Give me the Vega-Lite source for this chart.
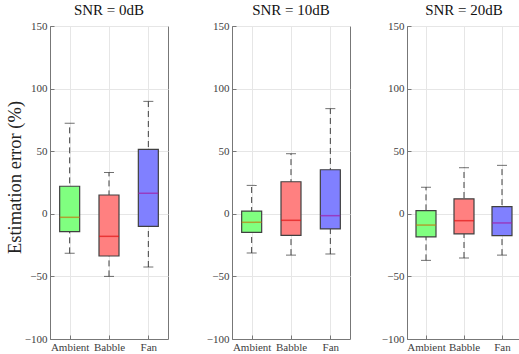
{
  "$schema": "https://vega.github.io/schema/vega-lite/v6.json",
  "padding": {"left": 4, "top": 2, "right": 0, "bottom": 0},
  "background": "white",
  "datasets": {
    "boxes": [
      {"snr": "0dB", "noise": "Ambient", "lo": -31.6, "q1": -14.3, "med": -2.8, "q3": 22, "hi": 72.3},
      {"snr": "0dB", "noise": "Babble", "lo": -50, "q1": -33.7, "med": -18, "q3": 15, "hi": 33},
      {"snr": "0dB", "noise": "Fan", "lo": -42.5, "q1": -10, "med": 16.4, "q3": 51.5, "hi": 89.8},
      {"snr": "10dB", "noise": "Ambient", "lo": -31.3, "q1": -14.8, "med": -6.8, "q3": 2.2, "hi": 22.7},
      {"snr": "10dB", "noise": "Babble", "lo": -33, "q1": -17.2, "med": -5.2, "q3": 25.6, "hi": 48},
      {"snr": "10dB", "noise": "Fan", "lo": -32.1, "q1": -12.1, "med": -1.5, "q3": 35.2, "hi": 84},
      {"snr": "20dB", "noise": "Ambient", "lo": -37.2, "q1": -18.5, "med": -9, "q3": 2.5, "hi": 21.2},
      {"snr": "20dB", "noise": "Babble", "lo": -35.3, "q1": -16.1, "med": -5.5, "q3": 12, "hi": 36.8},
      {"snr": "20dB", "noise": "Fan", "lo": -33, "q1": -17.5, "med": -7.3, "q3": 5.7, "hi": 38.7}
    ]
  },
  "config": {
    "view": {"stroke": "#777777", "strokeWidth": 1},
    "title": {"font": "Liberation Serif", "fontSize": 15, "fontWeight": "normal", "color": "#111111", "offset": 2},
    "axis": {
      "labelFont": "Liberation Serif",
      "labelFontSize": 11,
      "labelColor": "#404040",
      "titleFont": "Liberation Serif",
      "titleFontSize": 18.5,
      "titleFontWeight": "normal",
      "titleColor": "#222222",
      "domainColor": "#777777",
      "tickColor": "#777777",
      "gridColor": "#e6e6e6",
      "grid": true
    }
  },
  "spacing": 29,
  "hconcat": [
    {
      "spacing": 36,
      "hconcat": [
        {
          "width": 118, "height": 313,
          "title": "SNR = 0dB",
          "data": {"name": "boxes"},
          "transform": [{"filter": "datum.snr == '0dB'"}],
          "encoding": {
            "x": {"field": "noise", "type": "nominal", "sort": ["Ambient", "Babble", "Fan"], "scale": {"type": "point", "padding": 0.5},
              "axis": {"title": null, "labelAngle": 0, "labelPadding": 6, "tickSize": -4, "labelFont": "Liberation Serif"}}
          },
          "layer": [
            {"mark": {"type": "rule", "strokeDash": [6, 4], "color": "#404040", "strokeWidth": 1},
              "encoding": {"y": {"field": "lo", "type": "quantitative", "scale": {"domain": [-100, 150], "nice": false},
                "axis": {"title": "Estimation error (%)", "values": [-100, -50, 0, 50, 100, 150], "tickSize": -4, "labelPadding": 7, "minExtent": 24, "maxExtent": 24, "titlePadding": 2, "titleY": 151, "labelFont": "Liberation Serif"}},
                "y2": {"field": "hi"}}},
            {"mark": {"type": "tick", "size": 10, "thickness": 1, "color": "#333333"}, "encoding": {"y": {"field": "lo", "type": "quantitative"}}},
            {"mark": {"type": "tick", "size": 10, "thickness": 1, "color": "#333333"}, "encoding": {"y": {"field": "hi", "type": "quantitative"}}},
            {"mark": {"type": "bar", "width": 20, "stroke": "#404040", "strokeWidth": 1.2},
              "encoding": {"y": {"field": "q1", "type": "quantitative"}, "y2": {"field": "q3"},
                "fill": {"field": "noise", "type": "nominal", "scale": {"domain": ["Ambient", "Babble", "Fan"], "range": ["#80ff80", "#ff8080", "#8080ff"]}, "legend": null}}},
            {"mark": {"type": "tick", "size": 20, "thickness": 1.5},
              "encoding": {"y": {"field": "med", "type": "quantitative"},
                "color": {"field": "noise", "type": "nominal", "scale": {"domain": ["Ambient", "Babble", "Fan"], "range": ["#c07a10", "#e01515", "#a020a8"]}, "legend": null}}},
            {"mark": {"type": "rule", "strokeDash": [1, 2], "color": "#555555", "strokeWidth": 1}, "encoding": {"y": {"datum": 0, "type": "quantitative"}}}
          ]
        },
        {
          "width": 118, "height": 313,
          "title": "SNR = 10dB",
          "data": {"name": "boxes"},
          "transform": [{"filter": "datum.snr == '10dB'"}],
          "encoding": {
            "x": {"field": "noise", "type": "nominal", "sort": ["Ambient", "Babble", "Fan"], "scale": {"type": "point", "padding": 0.5},
              "axis": {"title": null, "labelAngle": 0, "labelPadding": 6, "tickSize": -4, "labelFont": "Liberation Serif"}}
          },
          "layer": [
            {"mark": {"type": "rule", "strokeDash": [6, 4], "color": "#404040", "strokeWidth": 1},
              "encoding": {"y": {"field": "lo", "type": "quantitative", "scale": {"domain": [-100, 150], "nice": false},
                "axis": {"title": null, "values": [-100, -50, 0, 50, 100, 150], "tickSize": -4, "labelPadding": 7, "minExtent": 24, "maxExtent": 24, "labelFont": "Liberation Serif"}},
                "y2": {"field": "hi"}}},
            {"mark": {"type": "tick", "size": 10, "thickness": 1, "color": "#333333"}, "encoding": {"y": {"field": "lo", "type": "quantitative"}}},
            {"mark": {"type": "tick", "size": 10, "thickness": 1, "color": "#333333"}, "encoding": {"y": {"field": "hi", "type": "quantitative"}}},
            {"mark": {"type": "bar", "width": 20, "stroke": "#404040", "strokeWidth": 1.2},
              "encoding": {"y": {"field": "q1", "type": "quantitative"}, "y2": {"field": "q3"},
                "fill": {"field": "noise", "type": "nominal", "scale": {"domain": ["Ambient", "Babble", "Fan"], "range": ["#80ff80", "#ff8080", "#8080ff"]}, "legend": null}}},
            {"mark": {"type": "tick", "size": 20, "thickness": 1.5},
              "encoding": {"y": {"field": "med", "type": "quantitative"},
                "color": {"field": "noise", "type": "nominal", "scale": {"domain": ["Ambient", "Babble", "Fan"], "range": ["#c07a10", "#e01515", "#a020a8"]}, "legend": null}}},
            {"mark": {"type": "rule", "strokeDash": [1, 2], "color": "#555555", "strokeWidth": 1}, "encoding": {"y": {"datum": 0, "type": "quantitative"}}}
          ]
        }
      ]
    },
    {
      "width": 114, "height": 313,
      "title": "SNR = 20dB",
      "data": {"name": "boxes"},
      "transform": [{"filter": "datum.snr == '20dB'"}],
      "encoding": {
        "x": {"field": "noise", "type": "nominal", "sort": ["Ambient", "Babble", "Fan"], "scale": {"type": "point", "padding": 0.5},
          "axis": {"title": null, "labelAngle": 0, "labelPadding": 6, "tickSize": -4, "labelFont": "Liberation Serif"}}
      },
      "layer": [
        {"mark": {"type": "rule", "strokeDash": [6, 4], "color": "#404040", "strokeWidth": 1},
          "encoding": {"y": {"field": "lo", "type": "quantitative", "scale": {"domain": [-100, 150], "nice": false},
            "axis": {"title": null, "values": [-100, -50, 0, 50, 100, 150], "tickSize": -4, "labelPadding": 7, "minExtent": 24, "maxExtent": 24, "labelFont": "Liberation Serif"}},
            "y2": {"field": "hi"}}},
        {"mark": {"type": "tick", "size": 10, "thickness": 1, "color": "#333333"}, "encoding": {"y": {"field": "lo", "type": "quantitative"}}},
        {"mark": {"type": "tick", "size": 10, "thickness": 1, "color": "#333333"}, "encoding": {"y": {"field": "hi", "type": "quantitative"}}},
        {"mark": {"type": "bar", "width": 20, "stroke": "#404040", "strokeWidth": 1.2},
          "encoding": {"y": {"field": "q1", "type": "quantitative"}, "y2": {"field": "q3"},
            "fill": {"field": "noise", "type": "nominal", "scale": {"domain": ["Ambient", "Babble", "Fan"], "range": ["#80ff80", "#ff8080", "#8080ff"]}, "legend": null}}},
        {"mark": {"type": "tick", "size": 20, "thickness": 1.5},
          "encoding": {"y": {"field": "med", "type": "quantitative"},
            "color": {"field": "noise", "type": "nominal", "scale": {"domain": ["Ambient", "Babble", "Fan"], "range": ["#c07a10", "#e01515", "#a020a8"]}, "legend": null}}},
        {"mark": {"type": "rule", "strokeDash": [1, 2], "color": "#555555", "strokeWidth": 1}, "encoding": {"y": {"datum": 0, "type": "quantitative"}}}
      ]
    }
  ]
}
